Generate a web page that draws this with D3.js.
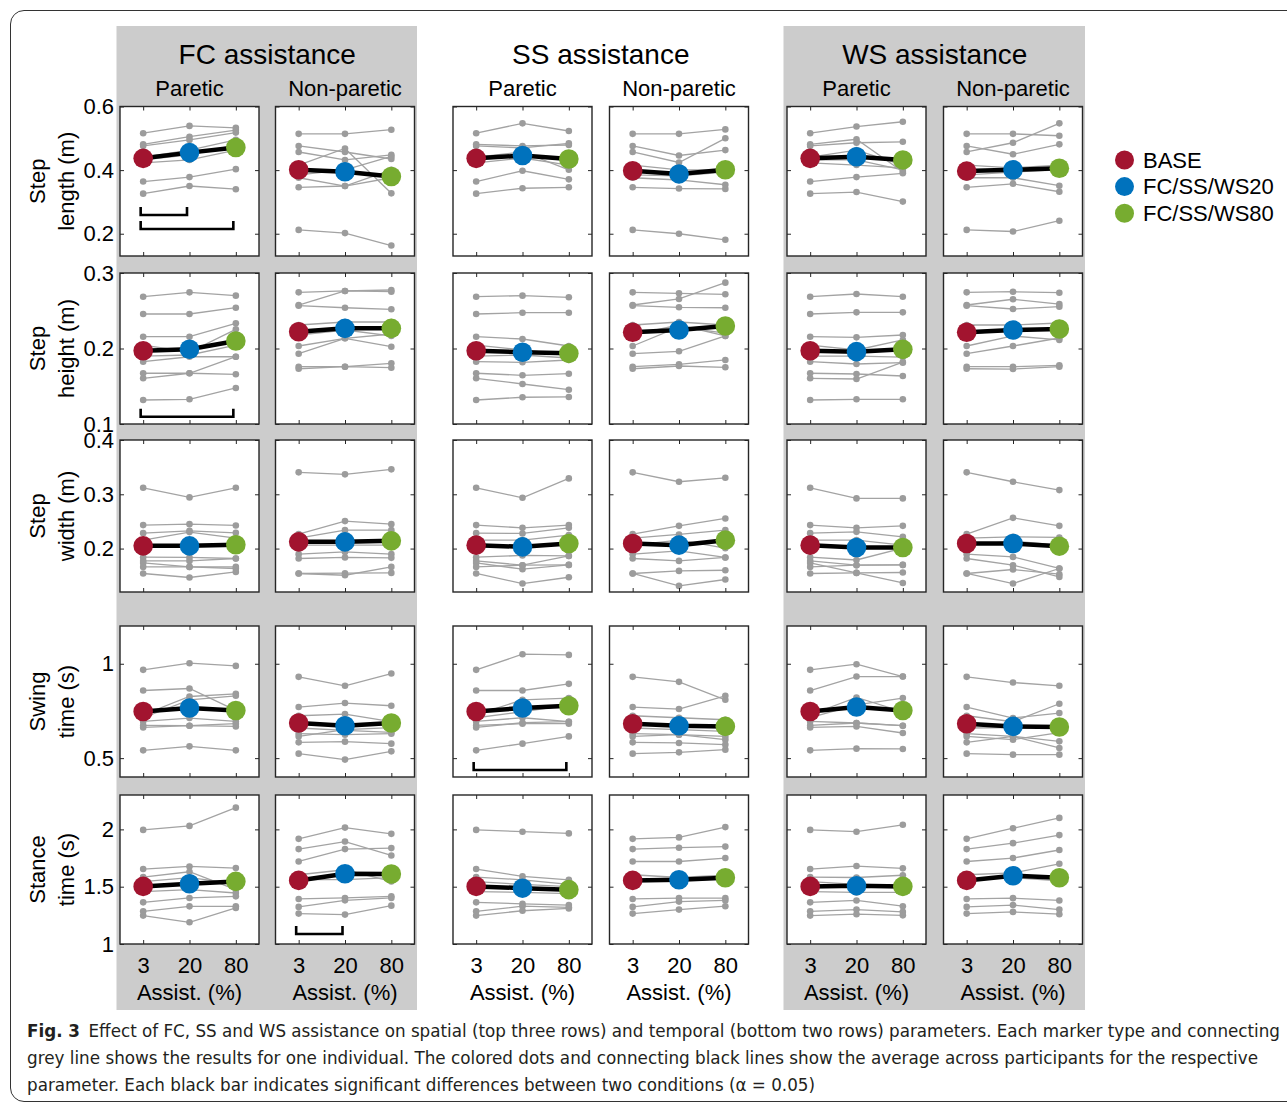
<!DOCTYPE html>
<html>
<head>
<meta charset="utf-8">
<script src="https://cdn.jsdelivr.net/npm/d3@7"></script>
<style>
  body { margin: 0; background: #fff; }
  text { font-family: "Liberation Sans", Arial, Helvetica, sans-serif; }
</style>
</head>
<body>
<div id="container"></div>
<script>
/* DATA */
const conditions = ["3", "20", "80"];
const groups = ["FC assistance", "SS assistance", "WS assistance"];
const sides = ["Paretic", "Non-paretic"];
const rowLabels = [["Step", "length (m)"], ["Step", "height (m)"], ["Step", "width (m)"], ["Swing", "time (s)"], ["Stance", "time (s)"]];
const yDomains = [[0.13, 0.6], [0.1, 0.3], [0.12, 0.4], [0.4, 1.2], [1, 2.3]];
const yTicks = [[0.2, 0.4, 0.6], [0.1, 0.2, 0.3], [0.2, 0.3, 0.4], [0.5, 1], [1, 1.5, 2]];
const legendLabels = ["BASE", "FC/SS/WS20", "FC/SS/WS80"];
const xLabel = "Assist. (%)";

// one entry per panel: FC-P, FC-NP, SS-P, SS-NP, WS-P, WS-NP ; each individual = [3%, 20%, 80%]
const stepLength = [
  [[0.516,0.539,0.533],[0.481,0.505,0.526],[0.476,0.495,0.518],[0.441,0.463,0.495],[0.432,0.448,0.479],[0.423,0.432,0.463],[0.364,0.378,0.403],[0.326,0.350,0.340]],
  [[0.514,0.514,0.527],[0.476,0.457,0.435],[0.457,0.432,0.448],[0.416,0.468,0.327],[0.385,0.401,0.443],[0.376,0.350,0.401],[0.346,0.350,0.376],[0.212,0.202,0.163]],
  [[0.516,0.547,0.523],[0.481,0.476,0.479],[0.476,0.470,0.484],[0.441,0.457,0.401],[0.432,0.445,0.432],[0.423,0.438,0.416],[0.364,0.398,0.371],[0.326,0.343,0.346]],
  [[0.514,0.514,0.528],[0.476,0.446,0.463],[0.457,0.424,0.500],[0.416,0.401,0.401],[0.385,0.382,0.394],[0.376,0.369,0.354],[0.346,0.342,0.341],[0.212,0.200,0.181]],
  [[0.516,0.537,0.552],[0.481,0.497,0.395],[0.476,0.486,0.489],[0.441,0.463,0.416],[0.432,0.432,0.401],[0.423,0.416,0.407],[0.364,0.378,0.390],[0.326,0.331,0.301]],
  [[0.514,0.514,0.508],[0.476,0.450,0.481],[0.457,0.486,0.547],[0.416,0.407,0.416],[0.385,0.394,0.401],[0.376,0.376,0.351],[0.346,0.357,0.332],[0.212,0.207,0.241]]
];
const stepLengthMean = [[0.437,0.455,0.471],[0.401,0.395,0.380],[0.437,0.446,0.435],[0.398,0.388,0.401],[0.437,0.442,0.432],[0.397,0.401,0.406]];

const stepHeight = [
  [[0.2686,0.2744,0.270],[0.2457,0.2457,0.254],[0.2156,0.2156,0.2334],[0.2046,0.1954,0.2254],[0.190,0.1914,0.2046],[0.1825,0.1891,0.1891],[0.1672,0.1672,0.1658],[0.1605,0.1672,0.1891],[0.1318,0.1327,0.1477]],
  [[0.2744,0.2762,0.2752],[0.2576,0.2762,0.2775],[0.2567,0.254,0.2519],[0.2311,0.2351,0.2351],[0.2179,0.2245,0.2166],[0.2033,0.2135,0.2024],[0.1931,0.2135,0.2192],[0.1759,0.1759,0.1804],[0.1732,0.1759,0.1746]],
  [[0.2686,0.270,0.2678],[0.2457,0.2474,0.2474],[0.2156,0.2126,0.2033],[0.2046,0.198,0.1914],[0.190,0.1914,0.1874],[0.1825,0.1817,0.1848],[0.1672,0.1645,0.1666],[0.1605,0.153,0.1454],[0.1318,0.1354,0.1358]],
  [[0.2744,0.2731,0.2718],[0.2576,0.2656,0.2872],[0.2567,0.2546,0.254],[0.2311,0.2351,0.2311],[0.2179,0.2311,0.2166],[0.2033,0.2285,0.2205],[0.1931,0.1963,0.2166],[0.1759,0.1791,0.1848],[0.1732,0.1768,0.1751]],
  [[0.2686,0.2722,0.2686],[0.2457,0.2479,0.2479],[0.2156,0.2148,0.2179],[0.2046,0.198,0.2113],[0.190,0.190,0.1887],[0.1825,0.1795,0.1812],[0.1672,0.1662,0.1636],[0.1605,0.1596,0.1821],[0.1318,0.1327,0.1327]],
  [[0.2744,0.2752,0.2739],[0.2576,0.2652,0.2589],[0.2567,0.2523,0.2554],[0.2311,0.2311,0.2338],[0.2179,0.2272,0.2258],[0.2033,0.2166,0.2113],[0.1931,0.2033,0.2139],[0.1759,0.1759,0.1777],[0.1732,0.1728,0.1759]]
];
const stepHeightMean = [[0.197,0.199,0.210],[0.2222,0.2267,0.2267],[0.197,0.195,0.1936],[0.2215,0.2245,0.2298],[0.197,0.1958,0.1989],[0.2215,0.2245,0.2258]];

const stepWidth = [
  [[0.312,0.2943,0.312],[0.2432,0.245,0.2426],[0.2284,0.2327,0.229],[0.2155,0.2303,0.2192],[0.1841,0.1836,0.1817],[0.1773,0.1773,0.1817],[0.1736,0.1662,0.1662],[0.1662,0.1662,0.1633],[0.1541,0.1467,0.157]],
  [[0.3404,0.3367,0.3459],[0.2266,0.2506,0.245],[0.2192,0.2339,0.2339],[0.2063,0.2063,0.2063],[0.1897,0.1939,0.1897],[0.1817,0.1836,0.1829],[0.1541,0.1509,0.1662],[0.1541,0.1546,0.1552]],
  [[0.312,0.2935,0.3293],[0.2432,0.2382,0.2432],[0.2284,0.2279,0.2382],[0.2155,0.2155,0.2247],[0.1841,0.1873,0.1865],[0.1773,0.1694,0.1865],[0.1736,0.162,0.1699],[0.1662,0.1694,0.1699],[0.1541,0.1356,0.1472]],
  [[0.3404,0.3231,0.3304],[0.2266,0.2419,0.2555],[0.2192,0.226,0.2339],[0.2063,0.2155,0.2007],[0.1897,0.1958,0.1836],[0.1817,0.1773,0.1836],[0.1541,0.1589,0.1601],[0.1541,0.1312,0.143]],
  [[0.312,0.2924,0.2924],[0.2432,0.2382,0.2419],[0.2284,0.2308,0.2216],[0.2155,0.2155,0.2063],[0.1841,0.179,0.2007],[0.1773,0.1694,0.1699],[0.1736,0.1552,0.1367],[0.1662,0.1694,0.1699],[0.1541,0.1552,0.1559]],
  [[0.3404,0.3231,0.3077],[0.2266,0.2566,0.2419],[0.2192,0.2216,0.2205],[0.2063,0.2137,0.2063],[0.1897,0.1847,0.1633],[0.1817,0.1694,0.1478],[0.1541,0.1614,0.1528],[0.1541,0.1356,0.1633]]
];
const stepWidthMean = [[0.205,0.205,0.207],[0.2124,0.2124,0.2142],[0.2063,0.2032,0.2094],[0.2094,0.2063,0.2155],[0.2063,0.202,0.202],[0.2094,0.2094,0.2044]];

const swingTime = [
  [[0.9676,1.003,0.9887],[0.8582,0.8688,0.7526],[0.7298,0.8265,0.8408],[0.714,0.8091,0.8302],[0.6945,0.7124,0.6945],[0.6733,0.6717,0.6823],[0.6628,0.6717,0.668],[0.5413,0.5624,0.5413]],
  [[0.9306,0.8831,0.948],[0.7705,0.7917,0.7774],[0.7245,0.7336,0.6929],[0.6596,0.6469,0.6363],[0.6295,0.6242,0.6295],[0.6152,0.6506,0.6612],[0.5835,0.5872,0.5767],[0.5238,0.4921,0.536]],
  [[0.9676,1.0505,1.0468],[0.8582,0.8582,0.8936],[0.7298,0.8091,0.818],[0.714,0.7457,0.7827],[0.6945,0.714,0.6929],[0.6733,0.6823,0.6823],[0.6628,0.6876,0.6929],[0.5413,0.5767,0.6152]],
  [[0.9306,0.9042,0.8091],[0.7705,0.76,0.8302],[0.7245,0.714,0.7034],[0.6596,0.6506,0.6416],[0.6295,0.6242,0.6152],[0.6152,0.6242,0.5978],[0.5835,0.5803,0.5714],[0.5238,0.5307,0.545]],
  [[0.9676,0.9977,0.9322],[0.8582,0.9322,0.9322],[0.7298,0.8212,0.7457],[0.714,0.7827,0.818],[0.6945,0.686,0.6717],[0.6733,0.686,0.6717],[0.6628,0.668,0.6332],[0.5413,0.5502,0.5487]],
  [[0.9306,0.9005,0.8831],[0.7705,0.7124,0.7388],[0.7245,0.6929,0.788],[0.6596,0.6612,0.6612],[0.6295,0.6152,0.5888],[0.6152,0.5978,0.6348],[0.5835,0.6152,0.554],[0.5238,0.5185,0.5185]]
];
const swingTimeMean = [[0.7473,0.7653,0.7526],[0.686,0.6717,0.686],[0.7473,0.7653,0.7774],[0.6823,0.6717,0.668],[0.7473,0.7705,0.7526],[0.6823,0.668,0.6649]];

const stanceTime = [
  [[1.9957,2.0304,2.1896],[1.6539,1.6765,1.6626],[1.5843,1.6304,1.4739],[1.5435,1.5783,1.5261],[1.4565,1.4739,1.445],[1.3635,1.4017,1.4157],[1.2852,1.3287,1.3287],[1.2478,1.1896,1.3148]],
  [[1.9174,2.0157,1.9609],[1.8278,1.8939,1.7722],[1.72,1.8278,1.8365],[1.6043,1.6478,1.5461],[1.5609,1.5609,1.5783],[1.393,1.4017,1.4157],[1.3235,1.3809,1.4017],[1.2652,1.2565,1.3348]],
  [[1.9957,1.98,1.965],[1.6539,1.59,1.56],[1.5843,1.56,1.52],[1.5435,1.52,1.50],[1.4565,1.45,1.44],[1.3635,1.35,1.34],[1.2852,1.33,1.32],[1.2478,1.29,1.31]],
  [[1.9174,1.93,2.02],[1.8278,1.84,1.85],[1.72,1.72,1.75],[1.6043,1.58,1.60],[1.5609,1.55,1.57],[1.393,1.40,1.40],[1.3235,1.37,1.38],[1.2652,1.30,1.33]],
  [[1.9957,1.98,2.04],[1.6539,1.68,1.66],[1.5843,1.58,1.60],[1.5435,1.52,1.50],[1.4565,1.45,1.45],[1.3635,1.38,1.33],[1.2852,1.30,1.28],[1.2478,1.26,1.25]],
  [[1.9174,2.01,2.10],[1.8278,1.88,1.95],[1.72,1.75,1.82],[1.6043,1.62,1.70],[1.5609,1.58,1.55],[1.393,1.40,1.38],[1.3235,1.34,1.30],[1.2652,1.28,1.26]]
];
const stanceTimeMean = [[1.5026,1.5261,1.5461],[1.5548,1.613,1.6104],[1.5026,1.487,1.474],[1.5548,1.5609,1.5783],[1.5026,1.5087,1.5026],[1.5548,1.5957,1.5783]];

const individuals = [stepLength, stepHeight, stepWidth, swingTime, stanceTime];
const means = [stepLengthMean, stepHeightMean, stepWidthMean, swingTimeMean, stanceTimeMean];

// significance brackets: row, panel, conditions spanned, level of the bar (data units)
const sigBars = [
  { row: 0, col: 0, from: "3", to: "20", level: 0.259 },
  { row: 0, col: 0, from: "3", to: "80", level: 0.215 },
  { row: 1, col: 0, from: "3", to: "80", level: 0.1097 },
  { row: 3, col: 2, from: "3", to: "80", level: 0.437 },
  { row: 4, col: 1, from: "3", to: "20", level: 1.087 }
];

const captionLead = "Fig. 3";
const caption = [
  "Effect of FC, SS and WS assistance on spatial (top three rows) and temporal (bottom two rows) parameters. Each marker type and connecting",
  "grey line shows the results for one individual. The colored dots and connecting black lines show the average across participants for the respective",
  "parameter. Each black bar indicates significant differences between two conditions (\u03b1 = 0.05)"
];

/* LAYOUT */
const width = 1287, height = 1103;
const colX = [120, 275.5, 453, 609.5, 787, 943.5];
const panelW = 139;
const rowTop = [106.5, 273, 440, 626, 795];
const rowBottom = [256, 424, 592, 777, 944];
const colors = ["#A2142F", "#0072BD", "#77AC30"];
const greyLine = "#a3a3a3";
const axisColor = "#262626";

const svg = d3.select("#container")
  .append("svg")
  .attr("width", width)
  .attr("height", height)

// outer frame
svg.append("path")
  .attr("d", "M1295,10.5 H24 A13.5,13.5 0 0 0 10.5,24 V1088 A13.5,13.5 0 0 0 24,1101.5 H1295")
  .attr("fill", "none")
  .attr("stroke", "#333")
  .attr("stroke-width", 1)

// grey group backgrounds (FC and WS)
;[0, 2].forEach(g => {
  const x0 = colX[g * 2] - 3.5, x1 = colX[g * 2 + 1] + panelW + 2.5
  svg.append("rect")
    .attr("x", x0).attr("y", 26)
    .attr("width", x1 - x0).attr("height", 1010 - 26)
    .attr("fill", "#cccccc")
})

// group titles and sides
groups.forEach((g, gi) => {
  const cx = (colX[gi * 2] + colX[gi * 2 + 1] + panelW) / 2
  svg.append("text")
    .attr("x", cx).attr("y", 64)
    .attr("text-anchor", "middle")
    .attr("font-size", 28)
    .text(g)
  sides.forEach((s, si) => {
    svg.append("text")
      .attr("x", colX[gi * 2 + si] + panelW / 2).attr("y", 96)
      .attr("text-anchor", "middle")
      .attr("font-size", 22)
      .text(s)
  })
})

// row labels
rowLabels.forEach((lab, r) => {
  const cy = (rowTop[r] + rowBottom[r]) / 2
  lab.forEach((t, li) => {
    svg.append("text")
      .attr("transform", `translate(${li === 0 ? 45 : 74}, ${cy}) rotate(-90)`)
      .attr("text-anchor", "middle")
      .attr("font-size", 22)
      .text(t)
  })
})

const line = d3.line()

// PANELS
individuals.forEach((rowData, r) => {
  const y = d3.scaleLinear().domain(yDomains[r]).range([rowBottom[r], rowTop[r]])

  rowData.forEach((panel, c) => {
    const x = d3.scalePoint().domain(conditions).range([colX[c], colX[c] + panelW]).padding(0.5)
    const g = svg.append("g")

    g.append("rect")
      .attr("x", colX[c]).attr("y", rowTop[r])
      .attr("width", panelW).attr("height", rowBottom[r] - rowTop[r])
      .attr("fill", "white")

    // individual grey lines
    g.selectAll("path.ind")
      .data(panel)
      .join("path")
      .attr("class", "ind")
      .attr("d", d => line(d.map((v, i) => [x(conditions[i]), y(v)])))
      .attr("fill", "none")
      .attr("stroke", greyLine)
      .attr("stroke-width", 1.3)

    g.selectAll("circle.ind")
      .data(panel.flatMap(d => d.map((v, i) => [conditions[i], v])))
      .join("circle")
      .attr("class", "ind")
      .attr("cx", d => x(d[0]))
      .attr("cy", d => y(d[1]))
      .attr("r", 3.3)
      .attr("fill", "#9c9c9c")

    // average
    const m = means[r][c]
    g.append("path")
      .attr("d", line(m.map((v, i) => [x(conditions[i]), y(v)])))
      .attr("fill", "none")
      .attr("stroke", "black")
      .attr("stroke-width", 4.5)

    g.selectAll("circle.mean")
      .data(m)
      .join("circle")
      .attr("class", "mean")
      .attr("cx", (v, i) => x(conditions[i]))
      .attr("cy", v => y(v))
      .attr("r", 9.8)
      .attr("fill", (v, i) => colors[i])

    // significance brackets
    sigBars.filter(b => b.row === r && b.col === c).forEach(b => {
      const xa = x(b.from) - 2.5, xb = x(b.to) - 2.5, yb = y(b.level)
      g.append("path")
        .attr("d", `M${xa},${yb - 8} V${yb} H${xb} V${yb - 8}`)
        .attr("fill", "none")
        .attr("stroke", "black")
        .attr("stroke-width", 2.6)
    })

    // axes: ticks inward on all four sides
    const left = d3.axisLeft(y).tickValues(yTicks[r]).tickSizeInner(-4).tickSizeOuter(0).tickPadding(6)
      .tickFormat(c === 0 ? (d => String(d)) : "")
    const right = d3.axisRight(y).tickValues(yTicks[r]).tickSizeInner(-4).tickSizeOuter(0).tickFormat("")
    const top = d3.axisTop(x).tickSizeInner(-4).tickSizeOuter(0).tickFormat("")
    const bottom = d3.axisBottom(x).tickSizeInner(-4).tickSizeOuter(0).tickPadding(13)
    if (r !== 4) bottom.tickFormat("")

    const axes = [
      [left, `translate(${colX[c]},0)`],
      [right, `translate(${colX[c] + panelW},0)`],
      [top, `translate(0,${rowTop[r]})`],
      [bottom, `translate(0,${rowBottom[r]})`]
    ]
    axes.forEach(([ax, tr]) => {
      const a = g.append("g").attr("transform", tr).call(ax)
      a.select(".domain").remove()
      a.selectAll("line").attr("stroke", axisColor)
      a.selectAll("text")
        .attr("font-family", "Liberation Sans, Arial, sans-serif")
        .attr("font-size", 22)
        .attr("fill", "black")
    })

    g.append("rect")
      .attr("x", colX[c]).attr("y", rowTop[r])
      .attr("width", panelW).attr("height", rowBottom[r] - rowTop[r])
      .attr("fill", "none")
      .attr("stroke", axisColor)
      .attr("stroke-width", 1.4)

    if (r === 4) {
      svg.append("text")
        .attr("x", colX[c] + panelW / 2).attr("y", 1000)
        .attr("text-anchor", "middle")
        .attr("font-size", 22)
        .text(xLabel)
    }
  })
})

// LEGEND
const legend = svg.append("g")
legendLabels.forEach((l, i) => {
  legend.append("circle")
    .attr("cx", 1124.5).attr("cy", 160 + i * 26.6)
    .attr("r", 9.5)
    .attr("fill", colors[i])
  legend.append("text")
    .attr("x", 1143).attr("y", 167.5 + i * 26.8)
    .attr("font-size", 22)
    .text(l)
})

// CAPTION
const capWidths = [1253, 1231, 788]
caption.forEach((t, i) => {
  const txt = svg.append("text")
    .attr("x", 27).attr("y", 1037 + i * 27)
    .attr("font-size", 17.5)
    .attr("fill", "#231f20")
    .attr("textLength", capWidths[i])
    .attr("lengthAdjust", "spacingAndGlyphs")
    .style("font-family", "'Liberation Sans Narrow', 'DejaVu Sans Condensed', 'Roboto Condensed', sans-serif")
  if (i === 0) {
    txt.append("tspan").attr("font-weight", "bold").text(captionLead)
    txt.append("tspan").attr("dx", 8).text(t)
  } else {
    txt.text(t)
  }
})
</script>
</body>
</html>
